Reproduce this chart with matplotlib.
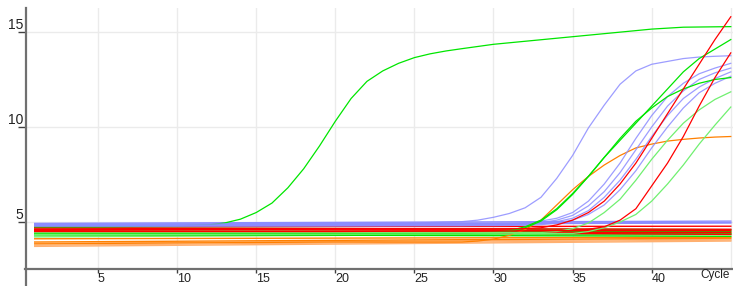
import matplotlib
matplotlib.use("Agg")
import matplotlib.pyplot as plt
from matplotlib.lines import Line2D

# ---------------- data ----------------
cyc_early = [1, 5, 10, 12, 13, 14, 15, 16, 17, 18, 19, 20, 21, 22, 23, 24, 25, 26, 27, 28, 30, 35, 40, 42, 45]
green_early = [4.75, 4.75, 4.8, 4.85, 4.95, 5.15, 5.5, 6.0, 6.8, 7.8, 9.0, 10.3, 11.5, 12.4, 12.95,
               13.35, 13.65, 13.85, 14.0, 14.12, 14.35, 14.75, 15.15, 15.25, 15.28]

cyc_late = [1, 10, 20, 25, 28, 29, 30, 31, 32, 33, 34, 35, 36, 37, 38, 39, 40, 41, 42, 43, 44, 45]
blue_early = [4.9, 4.9, 4.92, 4.95, 5.02, 5.1, 5.25, 5.45, 5.75, 6.3, 7.3, 8.5, 9.95, 11.15, 12.25,
              12.95, 13.3, 13.45, 13.6, 13.68, 13.72, 13.75]
orange_amp = [3.85, 3.9, 3.95, 3.95, 3.95, 4.0, 4.1, 4.3, 4.6, 5.1, 5.9, 6.7, 7.4, 8.0, 8.5, 8.9,
              9.1, 9.26, 9.35, 9.42, 9.47, 9.5]
red_1 = [4.6, 4.6, 4.62, 4.62, 4.62, 4.63, 4.63, 4.64, 4.66, 4.7, 4.85, 5.1, 5.5, 6.1, 7.0, 8.1,
         9.4, 10.7, 12.0, 13.3, 14.6, 15.8]
red_2 = [4.5, 4.5, 4.5, 4.52, 4.52, 4.52, 4.53, 4.53, 4.54, 4.54, 4.55, 4.55, 4.62, 4.75, 5.1, 5.7,
         6.9, 8.1, 9.5, 11.1, 12.6, 13.9]
green_a = [4.4, 4.4, 4.42, 4.42, 4.43, 4.44, 4.45, 4.55, 4.75, 5.1, 5.7, 6.5, 7.4, 8.4, 9.3, 10.2,
           11.1, 12.0, 12.9, 13.6, 14.1, 14.6]
green_b = [4.35, 4.35, 4.37, 4.38, 4.38, 4.39, 4.4, 4.5, 4.7, 5.05, 5.65, 6.45, 7.4, 8.4, 9.4, 10.3,
           11.0, 11.6, 12.0, 12.3, 12.5, 12.6]
green_c = [4.45, 4.45, 4.45, 4.45, 4.45, 4.45, 4.45, 4.45, 4.45, 4.45, 4.5, 4.65, 4.95, 5.5, 6.2, 7.2,
           8.3, 9.3, 10.2, 10.9, 11.45, 11.85]
green_d = [4.35, 4.35, 4.36, 4.37, 4.37, 4.38, 4.38, 4.38, 4.39, 4.39, 4.4, 4.4, 4.5, 4.7, 5.0, 5.4,
           6.1, 7.0, 8.0, 9.1, 10.1, 11.05]
blue_1 = [4.85, 4.85, 4.86, 4.87, 4.88, 4.88, 4.89, 4.9, 4.95, 5.05, 5.2, 5.5, 6.1, 7.0, 8.1, 9.4,
          10.6, 11.6, 12.3, 12.8, 13.1, 13.35]
blue_2 = [4.82, 4.82, 4.83, 4.84, 4.85, 4.85, 4.86, 4.87, 4.9, 4.97, 5.1, 5.35, 5.85, 6.6, 7.6, 8.8,
          10.0, 11.1, 11.9, 12.5, 12.85, 13.1]
blue_3 = [4.8, 4.8, 4.81, 4.82, 4.83, 4.83, 4.84, 4.85, 4.87, 4.92, 5.02, 5.2, 5.6, 6.3, 7.2, 8.3,
          9.5, 10.6, 11.5, 12.1, 12.55, 12.9]
blue_4 = [4.78, 4.78, 4.79, 4.8, 4.8, 4.81, 4.81, 4.82, 4.83, 4.86, 4.95, 5.1, 5.4, 5.9, 6.7, 7.7,
          8.9, 10.0, 11.0, 11.8, 12.3, 12.67]

# flat (non-amplifying) traces: value at first and last cycle
flat_cycles = [1, 45]
flat_blue = [[4.93, 5.05], [4.88, 4.98], [4.84, 4.95]]
flat_red = [[4.75, 4.78], [4.68, 4.62], [4.6, 4.55], [4.5, 4.45], [4.55, 4.35]]
flat_green = [[4.7, 4.6], [4.52, 4.5], [4.42, 4.38], [4.35, 4.25]]
flat_lightgreen = [[4.28, 4.35], [4.22, 4.4]]
flat_orange = [[4.12, 4.2], [3.95, 4.15]]
flat_lightorange = [[3.88, 4.1], [3.78, 4.05], [3.72, 4.0]]

x_ticks = [5, 10, 15, 20, 25, 30, 35, 40]
y_ticks = [5, 10, 15]
grid_x = [5, 10, 15, 20, 25, 30, 35, 40, 45]

# ---------------- style ----------------
C_BLUE = "#8c8cff"
C_RED = "#ff0000"
C_GREEN = "#00e600"
C_LGREEN = "#70f070"
C_ORANGE = "#ff8000"
C_LORANGE = "#ffb070"

plt.rcParams['font.family'] = ['Liberation Sans', 'DejaVu Sans']

W, H = 733, 286
fig = plt.figure(figsize=(W / 100, H / 100), dpi=100)
ax = fig.add_axes([25 / W, 1 - 269 / H, (W - 25) / W, (269 - 8) / H])
ax.set_xlim(0.386, 45.14)
ax.set_ylim(2.53, 16.26)

for gx in grid_x:
    ax.axvline(gx, color="#ebebeb", lw=1.0, zorder=0)
for gy in y_ticks:
    ax.axhline(gy, color="#ebebeb", lw=1.0, zorder=0)

lw_flat = 1.0
for vals in flat_lightorange:
    ax.plot(flat_cycles, vals, color=C_LORANGE, lw=lw_flat)
for vals in flat_orange:
    ax.plot(flat_cycles, vals, color=C_ORANGE, lw=lw_flat)
for vals in flat_lightgreen:
    ax.plot(flat_cycles, vals, color=C_LGREEN, lw=lw_flat)
for vals in flat_green:
    ax.plot(flat_cycles, vals, color=C_GREEN, lw=lw_flat)
for vals in flat_red:
    ax.plot(flat_cycles, vals, color=C_RED, lw=lw_flat)
for vals in flat_blue:
    ax.plot(flat_cycles, vals, color=C_BLUE, lw=lw_flat)

lw = 0.9
ax.plot(cyc_early, green_early, color=C_GREEN, lw=lw)
ax.plot(cyc_late, orange_amp, color=C_ORANGE, lw=lw)
for vals in (blue_early, blue_1, blue_2, blue_3, blue_4):
    ax.plot(cyc_late, vals, color=C_BLUE, lw=lw, alpha=0.85)
for vals in (green_a, green_b):
    ax.plot(cyc_late, vals, color=C_GREEN, lw=lw)
for vals in (green_c, green_d):
    ax.plot(cyc_late, vals, color=C_LGREEN, lw=lw)
for vals in (red_1, red_2):
    ax.plot(cyc_late, vals, color=C_RED, lw=lw)

# axes styling
for s in ("top", "right"):
    ax.spines[s].set_visible(False)
ax.spines["left"].set_visible(False)
ax.spines["bottom"].set_color("#707070")
ax.spines["bottom"].set_linewidth(1.6)
fig.add_artist(Line2D([25.5 / W, 25.5 / W], [0, 1 - 8 / H], transform=fig.transFigure,
                      color="#707070", lw=1.6))

ax.set_xticks(x_ticks)
ax.set_xticklabels([str(v) for v in x_ticks])
ax.set_yticks(y_ticks)
ax.set_yticklabels([str(v) for v in y_ticks])
ax.tick_params(axis="x", direction="out", length=3.0, width=1.0, color="#404040",
               labelsize=9, pad=0, labelcolor="#222222")
ax.tick_params(axis="y", direction="out", length=5, width=1.0, color="#404040",
               labelsize=10, pad=-3.5, labelcolor="#222222")
for lab in ax.get_xticklabels():
    lab.set_horizontalalignment("left")
for lab in ax.get_yticklabels():
    lab.set_verticalalignment("bottom")

fig.text(700 / W, 1 - 275 / H, "Cycle", fontsize=8.5, color="#222222", va="center", ha="left")

fig.savefig("out.png", dpi=100)
